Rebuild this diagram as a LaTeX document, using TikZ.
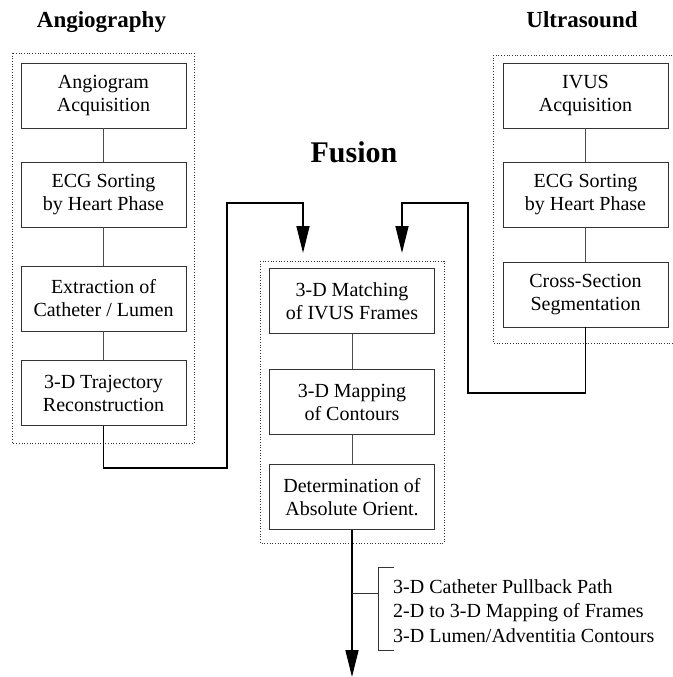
\documentclass[tikz,border=0pt]{standalone}
\usepackage{fontspec}
\setmainfont{Liberation Serif}
\usetikzlibrary{arrows.meta}
\begin{document}
\begin{tikzpicture}[x=1pt,y=-1pt,
  stepbox/.style={draw=black!80, line width=0.8pt, minimum width=165pt,
    minimum height=65pt, inner sep=0pt, align=center,
    font=\fontsize{20}{23}\selectfont},
  group/.style={draw=black!80, line width=0.7pt, dotted},
  link/.style={draw=black!70, line width=0.8pt},
  flow/.style={draw=black, line width=1.4pt, line join=miter,
    -{Triangle[length=27pt,width=13pt]}},
  title/.style={font=\fontsize{23}{26}\selectfont\bfseries, anchor=base},
  biglabel/.style={font=\fontsize{30}{34}\selectfont\bfseries, anchor=base}]
\useasboundingbox (0,0) rectangle (672,677);

% group frames
\draw[group] (12,53) rectangle (194,443);
\draw[group] (493,55) rectangle (690,343);
\draw[group] (260,261) rectangle (444,543);

% headings
\node[title] (tA) at (101.5,28) {Angiography};
\node[title] (tU) at (582,28) {Ultrasound};
\node[biglabel] (tF) at (354,162) {Fusion};

% angiography chain
\node[stepbox] (a1) at (103.5,95.5) {Angiogram\\Acquisition};
\node[stepbox] (a2) at (103.5,194.5) {ECG Sorting\\by Heart Phase};
\node[stepbox] (a3) at (103.5,298.5) {Extraction of\\Catheter / Lumen};
\node[stepbox] (a4) at (103.5,393) {3-D Trajectory\\Reconstruction};

% ultrasound chain
\node[stepbox] (u1) at (585.5,95.5) {IVUS\\Acquisition};
\node[stepbox] (u2) at (585.5,194.5) {ECG Sorting\\by Heart Phase};
\node[stepbox] (u3) at (585.5,294.5) {Cross-Section\\Segmentation};

% fusion chain
\node[stepbox] (f1) at (352,301) {3-D Matching\\of IVUS Frames};
\node[stepbox] (f2) at (352,402) {3-D Mapping\\of Contours};
\node[stepbox] (f3) at (352,497) {Determination of\\Absolute Orient.};

\draw[link] (a1) -- (a2) (a2) -- (a3) (a3) -- (a4);
\draw[link] (u1) -- (u2) (u2) -- (u3);
\draw[link] (f1) -- (f2) (f2) -- (f3);

% feeds into the fusion stage
\coordinate (inA) at (303,253);
\coordinate (inU) at (402,253);
\draw[flow] (a4.south) |- (227,468) |- (303,203) -- (inA);
\draw[flow] (u3.south) |- (468,393) |- (402,203) -- (inU);

% fusion output
\coordinate (out) at (352,677);
\coordinate (tap) at (352,593);
\draw[flow] (f3.south) -- (out);
\draw[link, draw=black!80] (tap) -- (378,593);
\draw[link, draw=black!80] (394,567) -- (378,567) -- (378,650) -- (394,650);
\node[anchor=west, align=left, inner sep=0pt,
  font=\fontsize{20}{24.5}\selectfont] (res) at (393,611)
  {3-D Catheter Pullback Path\\2-D to 3-D Mapping of Frames\\3-D Lumen/Adventitia Contours};
\end{tikzpicture}
\end{document}
